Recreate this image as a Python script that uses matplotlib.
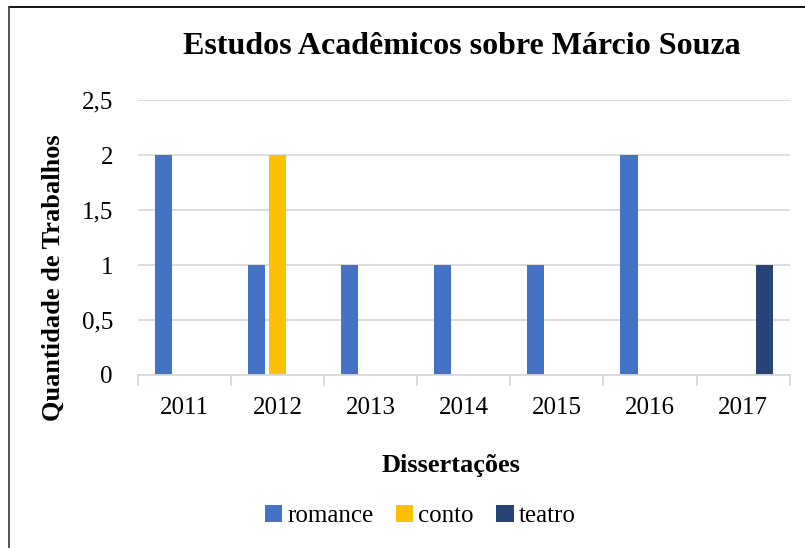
import matplotlib.pyplot as plt
import numpy as np
from matplotlib.lines import Line2D

plt.rcParams['font.family'] = ['Liberation Serif', 'DejaVu Serif']

anos = ["2011", "2012", "2013", "2014", "2015", "2016", "2017"]
romance = [2, 1, 1, 1, 1, 2, 0]
conto = [0, 2, 0, 0, 0, 0, 0]
teatro = [0, 0, 0, 0, 0, 0, 1]
y_ticks = [0, 0.5, 1, 1.5, 2, 2.5]
y_labels = ["0", "0,5", "1", "1,5", "2", "2,5"]

fig = plt.figure(figsize=(8.05, 5.48), dpi=100)
ax = fig.add_axes([0.1714, 0.3157, 0.8096, 0.5018])

x = np.arange(len(anos))
w = 0.183
step = 0.226
ax.bar(x - step, romance, w, color="#4472C4", label="romance")
ax.bar(x, conto, w, color="#FFC000", label="conto")
ax.bar(x + step, teatro, w, color="#264478", label="teatro")

ax.set_xlim(-0.5, len(anos) - 0.5)
ax.set_ylim(0, 2.5)
ax.set_yticks(y_ticks)
ax.set_yticklabels(y_labels, fontsize=18)
ax.yaxis.grid(True, color="#D9D9D9", linewidth=1.3)
ax.set_axisbelow(True)
ax.tick_params(axis="y", length=0, pad=18)

# category ticks at group boundaries
ax.set_xticks(np.arange(-0.5, len(anos)), minor=True)
ax.set_xticks(x)
ax.set_xticklabels(anos, fontsize=18)
ax.tick_params(axis="x", which="major", length=0, pad=16)
ax.tick_params(axis="x", which="minor", length=8, color="#D9D9D9", width=1.3)

for s in ["top", "right", "left"]:
    ax.spines[s].set_visible(False)
ax.spines["bottom"].set_color("#D9D9D9")
ax.spines["bottom"].set_linewidth(1.3)

fig.text(0.574, 0.915, "Estudos Acadêmicos sobre Márcio Souza", fontsize=23,
         fontweight="bold", ha="center", va="center")
fig.text(0.066, 0.494, "Quantidade de Trabalhos", fontsize=19, fontweight="bold",
         rotation=90, ha="center", va="center")
fig.text(0.56, 0.151, "Dissertações", fontsize=19, fontweight="bold",
         ha="center", va="center")

fig.legend(loc="center", bbox_to_anchor=(0.522, 0.058), ncol=3, frameon=False,
           fontsize=18, handlelength=0.7, handleheight=0.7, handletextpad=0.2,
           columnspacing=0.9)

# cropped chart border: only top and left edges visible
fig.add_artist(Line2D([0.011, 1.0], [0.987, 0.987], transform=fig.transFigure,
                      color="black", linewidth=1.3))
fig.add_artist(Line2D([0.011, 0.011], [0.0, 0.987], transform=fig.transFigure,
                      color="#444444", linewidth=1.3))

fig.savefig("out.png", dpi=100)
